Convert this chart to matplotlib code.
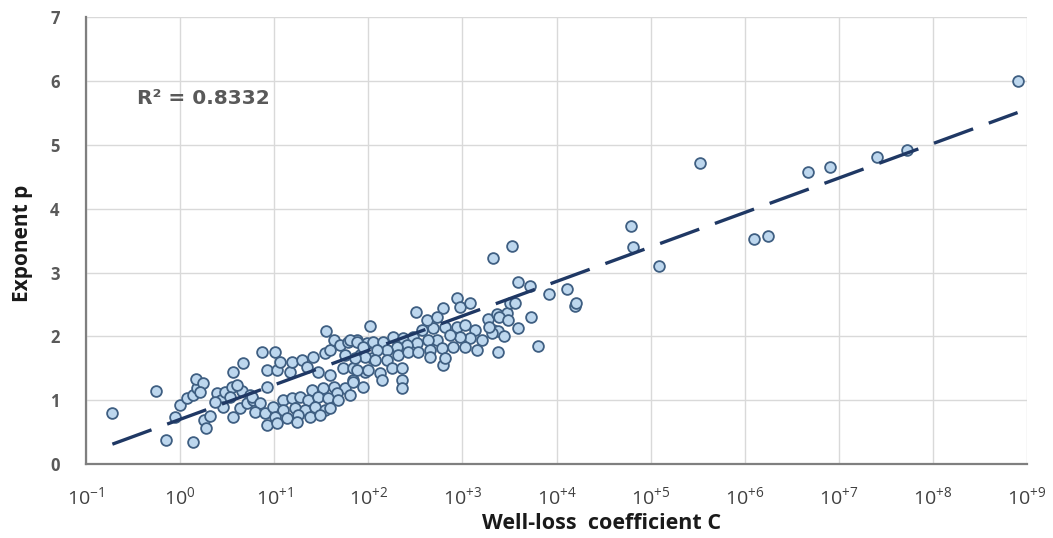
"""Exponent p against well-loss coefficient C, with a log trend line"""
import numpy as np
import matplotlib
matplotlib.use("Agg")
from matplotlib import pyplot as plt

plt.rcParams['font.family'] = ['Open Sans', 'DejaVu Sans']
plt.rcParams['mathtext.fontset'] = 'custom'
plt.rcParams['mathtext.rm'] = 'Open Sans'
plt.rcParams['mathtext.default'] = 'regular'

# log10 of the well-loss coefficient C and the exponent p
log_c = [
    -0.72, -0.26, -0.15, 0.14, -0.05, 0.00, 0.07, 0.14, 0.18, 0.17, 0.24, 0.21,
    0.25, 0.28, 0.32, 0.39, 0.43, 0.48, 0.55, 0.56, 0.67, 0.56, 0.64, 0.46,
    0.37, 0.66, 0.74, 0.71, 0.77, 0.60, 0.53, 0.76, 0.85, 0.80, 0.90, 0.99,
    0.87, 1.01, 0.92, 1.03, 1.06, 1.17, 1.19, 1.30, 1.35, 1.41, 1.47, 1.54,
    1.55, 1.59, 1.59, 1.63, 1.70, 1.73, 1.75, 1.78, 1.84, 1.84, 1.88, 1.91,
    1.96, 1.99, 2.04, 2.09, 0.92, 1.40, 1.52, 1.63, 1.75, 1.67, 1.09, 1.19,
    1.27, 1.36, 1.47, 1.57, 1.68, 1.09, 1.22, 1.33, 1.43, 1.54, 1.59, 1.01,
    1.14, 1.25, 1.38, 1.49, 0.92, 1.03, 1.24,
    2.02, 1.81, 1.88, 1.94, 2.05, 2.16, 2.26, 2.37, 2.47, 2.57, 2.69, 2.82,
    2.94, 3.03, 3.13, 3.21, 3.08, 2.97, 2.87, 2.73, 2.63, 2.52, 2.41, 2.30,
    2.20, 2.09, 1.96, 1.86, 2.07, 2.20, 2.32, 2.42, 2.53, 2.66, 2.78, 2.90,
    3.03, 3.16, 2.79, 2.82, 2.66, 1.88, 2.00, 2.12, 2.25, 2.36, 2.15, 2.36,
    2.36, 1.84, 1.94, 1.81,
    2.94, 2.97, 3.08, 2.79, 2.51, 2.62, 2.73, 3.27, 3.33, 3.37, 3.38, 3.44,
    3.31, 3.38, 3.28, 3.47, 3.51, 3.56, 3.59, 3.80, 3.73, 3.33, 3.53, 3.59,
    3.72, 3.92, 4.11, 4.20, 4.21, 3.39, 3.48,
    4.79, 4.81, 5.09, 5.52, 6.10, 6.25, 6.67, 6.91, 7.41, 7.72, 8.90,
]
exponent_p = [
    0.80, 1.14, 0.38, 0.34, 0.74, 0.92, 1.03, 1.08, 1.19, 1.33, 1.27, 1.13,
    0.69, 0.57, 0.75, 1.12, 1.00, 1.13, 1.21, 1.44, 1.58, 0.74, 0.88, 0.89,
    0.97, 1.14, 1.08, 0.96, 1.00, 1.24, 1.05, 1.05, 0.96, 0.82, 0.80, 0.89,
    1.76, 1.76, 1.47, 1.47, 1.60, 1.44, 1.60, 1.63, 1.52, 1.68, 1.44, 1.74,
    2.09, 1.79, 1.40, 1.94, 1.87, 1.50, 1.71, 1.91, 1.50, 1.32, 1.94, 1.71,
    1.44, 1.90, 1.66, 1.83, 1.21, 1.16, 1.19, 1.21, 1.19, 1.11, 1.00, 1.03,
    1.05, 1.00, 1.05, 1.03, 1.00, 0.85, 0.88, 0.85, 0.89, 0.85, 0.88, 0.74,
    0.72, 0.77, 0.74, 0.77, 0.61, 0.64, 0.66,
    2.17, 1.94, 1.91, 1.83, 1.91, 1.91, 1.99, 1.97, 1.99, 2.10, 2.13, 2.15,
    2.15, 2.18, 2.10, 1.94, 1.97, 1.99, 2.02, 1.94, 1.94, 1.90, 1.87, 1.83,
    1.79, 1.79, 1.68, 1.66, 1.63, 1.63, 1.71, 1.76, 1.76, 1.79, 1.82, 1.83,
    1.83, 1.79, 1.55, 1.66, 1.68, 1.47, 1.47, 1.43, 1.50, 1.50, 1.32, 1.32,
    1.19, 1.29, 1.21, 1.08,
    2.60, 2.46, 2.52, 2.44, 2.38, 2.26, 2.30, 2.27, 2.10, 2.35, 2.09, 2.01,
    2.05, 1.76, 2.15, 2.37, 2.52, 2.52, 2.13, 1.85, 2.30, 3.23, 3.42, 2.85,
    2.79, 2.66, 2.74, 2.48, 2.53, 2.30, 2.26,
    3.73, 3.40, 3.10, 4.72, 3.53, 3.57, 4.58, 4.65, 4.81, 4.92, 6.00,
]
# trend line p = intercept + slope * log10(C), as drawn in the picture
trend_intercept = 0.70
trend_slope = 0.54
r2_text = "R² = 0.8332"
decades = list(range(-1, 10))
tick_labels = ["10$^{%s}$" % (("+%d" % d) if d > 0 else "%d" % d) for d in decades]

c_values = 10.0 ** np.array(log_c)
p_values = np.array(exponent_p)

fig = plt.figure(figsize=(10.53, 5.38), dpi=100)
ax = fig.add_axes([0.0817, 0.1375, 0.8936, 0.8305])

ax.scatter(c_values, p_values, s=60, facecolor="#bdd7ee", edgecolor="#3f5f82",
           linewidth=1.3, zorder=3)

xs = np.array([min(log_c), max(log_c)])
ax.plot(10.0 ** xs, trend_intercept + trend_slope * xs, color="#1f3864",
        linewidth=2.4, dashes=(12.5, 5), zorder=4)

ax.set_xscale("log")
ax.set_xlim(10.0 ** decades[0], 10.0 ** decades[-1])
ax.set_ylim(0, 7)
ax.set_xticks([10.0 ** d for d in decades])
ax.set_xticklabels(tick_labels)
ax.xaxis.set_minor_locator(matplotlib.ticker.NullLocator())
ax.set_yticks(range(0, 8))

ax.grid(True, color="#d9d9d9", linewidth=1.0)
ax.set_axisbelow(True)
for side in ("top", "right"):
    ax.spines[side].set_visible(False)
for side in ("left", "bottom"):
    ax.spines[side].set_color("#7f7f7f")
    ax.spines[side].set_linewidth(1.6)

ax.tick_params(axis="x", length=0, pad=16, labelsize=14, labelcolor="#404040")
ax.tick_params(axis="y", length=0, pad=19, labelsize=12, labelcolor="#595959")
for lab in ax.get_yticklabels():
    lab.set_fontweight("bold")

ax.set_xlabel("Well-loss  coefficient C", fontsize=15.5, fontweight="bold",
              color="#1a1a1a")
ax.xaxis.set_label_coords(0.548, -0.11)
ax.set_ylabel("Exponent p", fontsize=15, fontweight="bold", color="#1a1a1a")
ax.yaxis.set_label_coords(-0.056, 0.494)

ax.text(0.054, 0.819, r2_text, transform=ax.transAxes, fontsize=14.5,
        fontweight="bold", color="#595959", va="center", ha="left",
        family=["DejaVu Sans"])

fig.savefig("out.png", dpi=100)
